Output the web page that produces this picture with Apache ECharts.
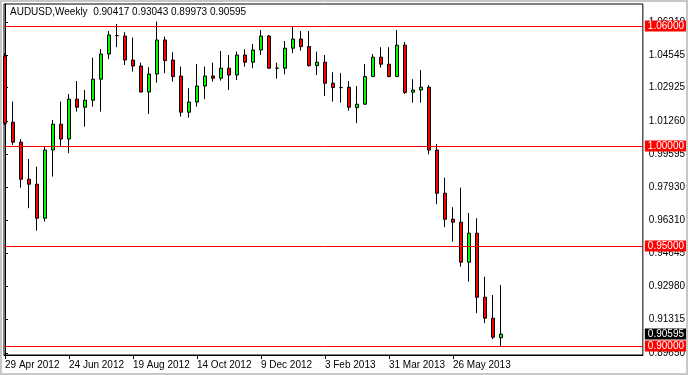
<!DOCTYPE html>
<html>
<head>
<meta charset="utf-8">
<script src="https://cdn.jsdelivr.net/npm/echarts@6/dist/echarts.min.js"></script>
<style>
html,body{margin:0;padding:0;background:#fff;}
#chart{width:688px;height:375px;}
</style>
</head>
<body>
<div id="chart"></div>
<script>
const symbolName = 'AUDUSD,Weekly';
const xLabels = ['29 Apr 2012','24 Jun 2012','19 Aug 2012','14 Oct 2012','9 Dec 2012','3 Feb 2013','31 Mar 2013','26 May 2013'];
const xLabelIdx = [0, 8, 16, 24, 32, 40, 48, 56];
const opens  = [1.0450,1.0119,1.0019,0.9834,0.9809,0.9639,0.9980,1.0109,1.0035,1.0234,1.0194,1.0229,1.0334,1.0460,1.0552,1.0550,1.0430,1.0400,1.0270,1.0360,1.0530,1.0430,1.0350,1.0169,1.0220,1.0300,1.0350,1.0339,1.0389,1.0355,1.0455,1.0419,1.0480,1.0550,1.0389,1.0389,1.0489,1.0535,1.0497,1.0402,1.0419,1.0314,1.0292,1.0294,1.0192,1.0209,1.0347,1.0444,1.0409,1.0347,1.0504,1.0269,1.0280,1.0294,0.9980,0.9764,0.9634,0.9619,0.9419,0.9564,0.9244,0.9139,0.90417];
const highs  = [1.0465,1.0222,1.0035,0.9935,0.9897,1.0000,1.0130,1.0222,1.0260,1.0325,1.0280,1.0442,1.0485,1.0575,1.0610,1.0569,1.0542,1.0417,1.0394,1.0622,1.0547,1.0469,1.0397,1.0289,1.0410,1.0397,1.0417,1.0475,1.0455,1.0472,1.0484,1.0510,1.0580,1.0555,1.0417,1.0525,1.0597,1.0575,1.0575,1.0472,1.0455,1.0369,1.0364,1.0325,1.0300,1.0410,1.0460,1.0494,1.0494,1.0580,1.0520,1.0334,1.0380,1.0305,1.0010,0.9842,0.9694,0.9792,0.9665,0.9639,0.9347,0.9255,0.93043];
const lows   = [1.0105,1.0005,0.9792,0.9689,0.9577,0.9622,0.9847,1.0000,0.9964,1.0172,1.0097,1.0197,1.0172,1.0434,1.0494,1.0405,1.0372,1.0268,1.0160,1.0317,1.0364,1.0322,1.0147,1.0142,1.0197,1.0234,1.0322,1.0327,1.0280,1.0330,1.0397,1.0389,1.0455,1.0387,1.0337,1.0359,1.0464,1.0477,1.0397,1.0355,1.0250,1.0222,1.0217,1.0177,1.0114,1.0207,1.0345,1.0392,1.0344,1.0345,1.0260,1.0217,1.0217,0.9959,0.9709,0.9594,0.9522,0.9397,0.9322,0.9164,0.9114,0.9034,0.89973];
const closes = [1.0114,1.0019,0.9834,0.9809,0.9639,0.9980,1.0109,1.0035,1.0234,1.0194,1.0229,1.0334,1.0460,1.0555,1.0552,1.0430,1.0400,1.0270,1.0360,1.0530,1.0427,1.0347,1.0169,1.0220,1.0300,1.0350,1.0339,1.0389,1.0355,1.0455,1.0419,1.0480,1.0550,1.0389,1.0389,1.0489,1.0535,1.0497,1.0402,1.0419,1.0314,1.0292,1.0292,1.0194,1.0209,1.0347,1.0444,1.0409,1.0347,1.0504,1.0268,1.0280,1.0294,0.9980,0.9764,0.9634,0.9619,0.9419,0.9564,0.9244,0.9139,0.9044,0.90595];
const levels = [1.06, 1.00, 0.95, 0.90];
const yTicks = [1.06210,1.04545,1.02925,1.01260,0.99595,0.97930,0.96310,0.94645,0.92980,0.91315,0.89650];

const FONT = 'Liberation Sans';
const FS = 10;
const last = opens.length - 1;
const header = symbolName + '  ' + [opens[last], highs[last], lows[last], closes[last]].map(v => v.toFixed(5)).join(' ');

const candleData = opens.map((o, i) => [i, o, closes[i], lows[i], highs[i]]);

const chart = echarts.init(document.getElementById('chart'), null, {renderer: 'canvas'});
const option = {
  animation: false,
  backgroundColor: '#ffffff',
  textStyle: {fontFamily: FONT},
  title: {
    text: header, left: 10, top: 7, padding: 0,
    textStyle: {fontFamily: FONT, fontSize: FS, fontWeight: 'normal', color: '#000'}
  },
  graphic: [
    {type: 'rect', shape: {x: 0, y: 0, width: 688, height: 375}, style: {fill: 'none', stroke: '#c8c8c8', lineWidth: 4}, silent: true, z: 100}
  ],
  grid: {left: 4, right: 45, top: 4, bottom: 20, show: true, borderColor: '#000', borderWidth: 1, backgroundColor: 'transparent'},
  xAxis: {
    type: 'value', min: -0.125, max: 79.75,
    axisLine: {show: true, onZero: false, lineStyle: {color: '#000', width: 1}},
    axisTick: {show: true, length: 4, customValues: xLabelIdx, lineStyle: {color: '#000'}},
    axisLabel: {
      show: true, customValues: xLabelIdx, align: 'left', margin: 5,
      fontFamily: FONT, fontSize: FS, color: '#000',
      formatter: v => xLabels[xLabelIdx.indexOf(Math.round(v))] || ''
    },
    splitLine: {show: false}
  },
  yAxis: {
    type: 'value', position: 'right', min: 0.8955, max: 1.071, scale: true,
    axisLine: {show: true, lineStyle: {color: '#000', width: 1}},
    axisTick: {show: true, length: 3, customValues: yTicks, lineStyle: {color: '#000'}},
    axisLabel: {
      show: true, customValues: yTicks, margin: 6,
      fontFamily: FONT, fontSize: FS, color: '#000',
      formatter: v => v.toFixed(5)
    },
    splitLine: {show: false}
  },
  series: [{
    type: 'candlestick',
    data: candleData,
    barWidth: 4,
    clip: true,
    itemStyle: {
      color: '#00ff00', color0: '#ff0000',
      borderColor: '#000', borderColor0: '#000', borderColorDoji: '#000',
      borderWidth: 1
    },
    markLine: {
      silent: true,
      precision: 5,
      symbol: ['none', 'none'],
      animation: false,
      lineStyle: {color: '#ff0000', width: 1, type: 'solid'},
      label: {
        show: true, position: 'end', distance: 2,
        formatter: p => Number(p.value).toFixed(5),
        color: '#fff', backgroundColor: '#ff0000',
        padding: [1, 3, 0, 3], fontFamily: FONT, fontSize: FS
      },
      emphasis: {disabled: true},
      data: levels.map(v => ({yAxis: v})).concat([{
        yAxis: closes[last],
        lineStyle: {color: 'rgba(0,0,0,0)', width: 1},
        label: {show: true, backgroundColor: '#000', color: '#fff', opacity: 1}
      }])
    }
  }]
};
chart.setOption(option);
</script>
</body>
</html>
